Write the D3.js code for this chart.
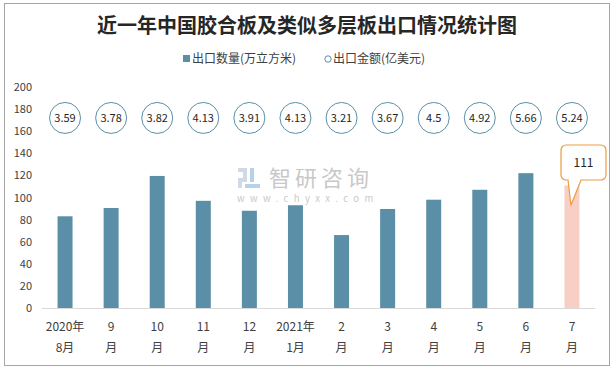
<!DOCTYPE html>
<html>
<head>
<meta charset="utf-8">
<script src="https://cdn.jsdelivr.net/npm/d3@7"></script>
<style>
  body { margin: 0; background: #fff; }
  svg text { font-family: "Noto Sans CJK SC", "Noto Sans", sans-serif; }
</style>
</head>
<body>
<svg id="chart" width="614" height="370"></svg>
<script>
// chart data
const monthTop = ['2020年', '9', '10', '11', '12', '2021年', '2', '3', '4', '5', '6', '7'];
const monthBottom = ['8月', '月', '月', '月', '月', '1月', '月', '月', '月', '月', '月', '月'];
const exportQty = [83, 90.5, 119.5, 97, 88, 93, 66, 89.6, 98, 107, 122, 111];   // 万立方米
const exportValue = [3.59, 3.78, 3.82, 4.13, 3.91, 4.13, 3.21, 3.67, 4.5, 4.92, 5.66, 5.24]; // 亿美元
const yTicks = [0, 20, 40, 60, 80, 100, 120, 140, 160, 180, 200];

const svg = d3.select('#chart');
const W = 614, H = 370;
const margin = { left: 42, right: 19, top: 87, bottom: 62 };

// outer frame
svg.append('rect')
  .attr('x', 4.5).attr('y', 3.5)
  .attr('width', 605).attr('height', 362)
  .attr('fill', '#fff')
  .attr('stroke', '#a6a6a6');

// title
svg.append('text')
  .attr('x', 307).attr('y', 33)
  .attr('text-anchor', 'middle')
  .attr('font-size', 20)
  .attr('font-weight', 'bold')
  .attr('fill', '#262626')
  .text('近一年中国胶合板及类似多层板出口情况统计图');

// legend
const lg = svg.append('g');
lg.append('rect').attr('x', 183).attr('y', 55).attr('width', 7).attr('height', 7).attr('fill', '#5b8fa8');
lg.append('text').attr('x', 192).attr('y', 63).attr('font-size', 12).attr('fill', '#404040').text('出口数量(万立方米)');
lg.append('circle').attr('cx', 328).attr('cy', 59).attr('r', 3.2).attr('fill', '#fff').attr('stroke', '#5b8fa8');
lg.append('text').attr('x', 333).attr('y', 63).attr('font-size', 12).attr('fill', '#404040').text('出口金额(亿美元)');

// category centres
const band = (W - margin.left - margin.right) / monthTop.length;
const xc = i => margin.left + band * (i + 0.5);

const y = d3.scaleLinear()
  .domain([0, 200])
  .range([H - margin.bottom, margin.top]);

// y axis labels
const yAxis = svg.append('g')
  .attr('transform', `translate(${margin.left - 10},0)`)
  .call(d3.axisLeft(y).tickValues(yTicks).tickSize(0).tickPadding(0));
yAxis.select('.domain').remove();
yAxis.selectAll('text').attr('font-size', 11).attr('fill', '#404040')
  .attr('font-family', '"Liberation Sans", Arial, sans-serif');

// watermark
const wm = svg.append('g').attr('opacity', 0.85);
wm.append('rect').attr('x', 238).attr('y', 168).attr('width', 9).attr('height', 4).attr('fill', '#c9d3e6');
wm.append('rect').attr('x', 243).attr('y', 172).attr('width', 4).attr('height', 6).attr('fill', '#c9d3e6');
wm.append('rect').attr('x', 238).attr('y', 178).attr('width', 9).attr('height', 4).attr('fill', '#c9d3e6');
wm.append('rect').attr('x', 238).attr('y', 182).attr('width', 4).attr('height', 6).attr('fill', '#c9d3e6');
wm.append('rect').attr('x', 250).attr('y', 168).attr('width', 4).attr('height', 14).attr('fill', '#a9c9e8');
wm.append('rect').attr('x', 245).attr('y', 184).attr('width', 15).attr('height', 4).attr('fill', '#a9c9e8');
wm.append('text').attr('x', 269).attr('y', 186).attr('font-size', 22).attr('fill', '#bfbfbf')
  .attr('letter-spacing', 4).text('智研咨询');
wm.append('text').attr('x', 237).attr('y', 202).attr('font-size', 9.5).attr('fill', '#bfbfbf')
  .attr('letter-spacing', 5.4).attr('font-family', '"DejaVu Sans", sans-serif').text('www.chyxx.com');

// bars
svg.append('g').selectAll('rect')
  .data(exportQty)
  .join('rect')
  .attr('x', (d, i) => xc(i) - 7.5)
  .attr('width', 15)
  .attr('y', d => y(d))
  .attr('height', d => y(0) - y(d))
  .attr('fill', (d, i) => i === exportQty.length - 1 ? '#f8cfc4' : '#5b8fa8');

// x axis line
svg.append('line')
  .attr('x1', margin.left).attr('x2', W - margin.right)
  .attr('y1', y(0) + 0.5).attr('y2', y(0) + 0.5)
  .attr('stroke', '#d9d9d9');

// x labels (two lines)
const xl = svg.append('g').selectAll('g')
  .data(monthTop)
  .join('g')
  .attr('transform', (d, i) => `translate(${xc(i)},0)`);
xl.append('text').attr('y', 331).attr('text-anchor', 'middle').attr('font-size', 12).attr('fill', '#404040')
  .text(d => d);
xl.append('text').attr('y', 352).attr('text-anchor', 'middle').attr('font-size', 12).attr('fill', '#404040')
  .text((d, i) => monthBottom[i]);

// export value markers: circles drawn at a fixed level
const markerLevel = 172;
const mk = svg.append('g').selectAll('g')
  .data(exportValue)
  .join('g')
  .attr('transform', (d, i) => `translate(${xc(i)},${y(markerLevel)})`);
mk.append('circle').attr('r', 15.5).attr('fill', '#fff').attr('stroke', '#5b8fa8').attr('stroke-width', 1);
mk.append('text').attr('y', 4).attr('text-anchor', 'middle').attr('font-size', 11).attr('fill', '#262626')
  .text(d => d);

// callout for last bar
const last = exportQty.length - 1;
const tipX = xc(last) - 1, tipY = y(exportQty[last]) + 20;
const bx = 561, by = 145, bw = 45, bh = 35, r = 5;
const path = d3.path();
path.moveTo(bx + r, by);
path.lineTo(bx + bw - r, by);
path.arcTo(bx + bw, by, bx + bw, by + r, r);
path.lineTo(bx + bw, by + bh - r);
path.arcTo(bx + bw, by + bh, bx + bw - r, by + bh, r);
path.lineTo(bx + 20, by + bh);
path.lineTo(tipX, tipY);
path.lineTo(bx + 7, by + bh);
path.lineTo(bx + r, by + bh);
path.arcTo(bx, by + bh, bx, by + bh - r, r);
path.lineTo(bx, by + r);
path.arcTo(bx, by, bx + r, by, r);
path.closePath();
svg.append('path').attr('d', path.toString()).attr('fill', '#fff').attr('stroke', '#ed9a43').attr('stroke-width', 1.2);
svg.append('text').attr('x', bx + bw / 2).attr('y', 167).attr('text-anchor', 'middle')
  .attr('font-size', 12).attr('fill', '#262626').text(exportQty[last]);
</script>
</body>
</html>
